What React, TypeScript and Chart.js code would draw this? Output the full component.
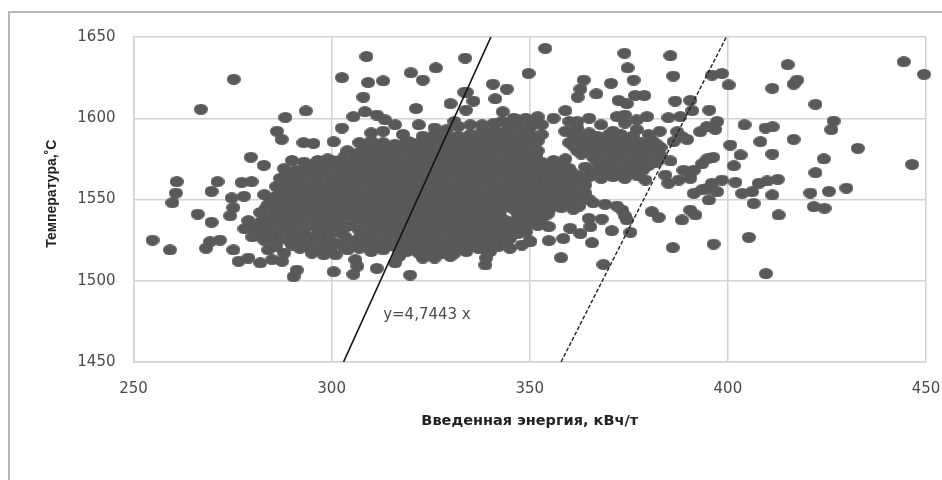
import React, { useEffect, useRef } from "react";
import { Chart, registerables } from "chart.js";

Chart.register(...registerables);

const xTitle = "Введенная энергия, кВч/т";
const yTitle = "   Температура,˚С";
const equationLabel = "y=4,7443 x";
const equationAt = [313, 1479];

const solidLine = [{ x: 303, y: 1450 }, { x: 340.2, y: 1650 }];
const dashedLine = [{ x: 357.9, y: 1450 }, { x: 399.6, y: 1650 }];

const leftOutliers = [
  [254.8,1525],[259.2,1519],[259.8,1548],[260.7,1554],[260.9,1561],[266.2,1541],[269.7,1536],[267,1605.5],[275.3,1624],
  [268.3,1520],[269.3,1524],[271.8,1525],[269.7,1555],[271.2,1561],[275.2,1519],[276.5,1512],[279,1514],[274.4,1540],
  [275.2,1545],[274.8,1551],[277.9,1552],[277.3,1560.5],[279.8,1561],[279.6,1576],[282.9,1571],[286.2,1592],[287.4,1587],
  [288.3,1600.5],[293.5,1604.5],[292.9,1585],[295.4,1584.5],[300.5,1585.6],[302.6,1594],[305.5,1601],[308.4,1604],[311.4,1602],
  [313.5,1599],[302.6,1625],[308.8,1638],[308,1613],[309.2,1622],[313,1623],[320,1628],[323,1623.5],[326.3,1631],
  [321.3,1606],[330,1609],[333.5,1616],[333.7,1637],[334.1,1616],[335.8,1610.6],[333.9,1605],[340.7,1621],[344.2,1618],
  [341.3,1612],[349.7,1627.6],[343.2,1604],[346.3,1599.5],[319.8,1503.5],[300.5,1505.6],[290.4,1502.5],[291.2,1506.6],
  [305.5,1504],[306,1513],[306.5,1509],[311.4,1507.6],[338.8,1509.7],[339,1514],[350,1524.5],[282,1511],[285,1513],[287.5,1512],
  [316,1511],[323,1514],[326,1514],[330,1515],[317,1515],[339,1519],
];

const rightOutliers = [
  [353.9,1643],[373.9,1640],[374.7,1631],[376.2,1623.5],[385.5,1638.5],[386.2,1626],[370.5,1621.5],[363.6,1623.5],[362.8,1618],
  [366.8,1615],[362.1,1613],[372.4,1611],[374.5,1609],[376.6,1614],[378.9,1614],[396,1626.6],[398.5,1627.6],[400.2,1620.5],
  [386.7,1610.6],[390.5,1611],[391,1604.7],[395.3,1605],[359,1604.7],[411.2,1618.4],[415.1,1633],[417.5,1623.5],[416.6,1621],
  [422.1,1608.6],[444.4,1634.8],[449.5,1627],[446.5,1571.6],[432.8,1581.5],[426.7,1598.3],[426.1,1593],[416.6,1587],[411.2,1578],
  [408.2,1585.6],[424.2,1575],[422.1,1566.5],[429.9,1557],[425.5,1555],[420.8,1554],[421.7,1545.6],[424.4,1544.6],[412.8,1540.5],
  [411.2,1552.8],[412.6,1562.4],[409.9,1561.4],[407.8,1560],[406.5,1547.6],[406.1,1554.8],[403.6,1553.8],[401.9,1560.6],[401.5,1570.8],
  [403.2,1577.4],[400.6,1583.5],[404.2,1596],[409.5,1594],[411.3,1594.8],[405.3,1526.7],[396.4,1522.6],[386.1,1520.4],[409.6,1504.4],
  [368.6,1510],[357.9,1514.2],[375.4,1529.8],[370.7,1530.8],[365.7,1523.4],[362.8,1529],[358.5,1526],[354.8,1524.7],[350.1,1524],
  [368.2,1538],[364.9,1538.4],[365.3,1533.3],[360.2,1532.3],[354.8,1533.3],[374.5,1537.4],[373.3,1543.5],[374,1540],[380.8,1542.5],
  [382.5,1539],[388.4,1537.4],[390.5,1543.5],[391.8,1540.5],[395.2,1549.7],[391.4,1553.8],[396,1560],[398.5,1562],[397.3,1554.8],
  [393.5,1556],[395,1557],[385,1560],[384.2,1565],[387.6,1562],[390.5,1563],[388.8,1568],[391.4,1568],[393.5,1572],[396.3,1576],
  [394.8,1575],[385.5,1573.7],[379.2,1562],[382.8,1592],[387.2,1591.7],[388.4,1588.7],[386.3,1585.6],[389.7,1587],[385,1600.4],
  [388,1601],[393,1591.7],[394.7,1594.8],[397.3,1598],[396.8,1593.2],[379.6,1601],[377,1599],[366,1548],[369,1547],[372,1546],
];

const coreLow = [
  [284,1519],[288,1517],[292,1520],[295,1517],[298,1516],[301,1516],[304,1519],[307,1520],[310,1518],[313,1519],[316,1521],[319,1518],
  [322,1517],[325,1518],[328,1517],[331,1517],[334,1518],[337,1520],[340,1518],[342,1521],[345,1520],[348,1522],
  [280,1527],[283,1525],[286,1524],[289,1525],[292,1526],[295,1524],[298,1525],[301,1523],[306,1525],[309,1524],[312,1525],[315,1524],
  [318,1523],[321,1522],[324,1524],[327,1523],[330,1522],[333,1523],[336,1524],[339,1525],[342,1527],[345,1526],[347,1529],
  [278,1532],[281,1531],[284,1530],[287,1531],[290,1530],[293,1532],[299,1531],[302,1530],[307,1531],[310,1530],[313,1532],[319,1529],
  [322,1530],[325,1529],[328,1530],[331,1529],[334,1530],[337,1531],[340,1530],[343,1533],[346,1532],[349,1533],[352,1534],
  [279,1537],[282,1536],[285,1536],[288,1537],[291,1536],[294,1538],[299,1537],[302,1536],[308,1537],[311,1536],[314,1537],[317,1535],
  [320,1536],[323,1535],[326,1536],[329,1535],[332,1537],[335,1536],[338,1536],[341,1538],[344,1537],[347,1538],[350,1539],[353,1538],
  [282,1542],[285,1541],[288,1542],[291,1541],[294,1542],[297,1541],[300,1542],[303,1541],[306,1542],[309,1541],[312,1543],[315,1541],
  [318,1542],[321,1541],[324,1542],[327,1541],[330,1543],[333,1541],[336,1542],[339,1543],[342,1542],[349,1544],[352,1543],[355,1544],[358,1545],[361,1544],
  [284,1547],[287,1548],[290,1546],[293,1547],[296,1548],[299,1547],[302,1546],[305,1548],[308,1547],[311,1548],[314,1546],[317,1547],
  [320,1548],[323,1546],[326,1547],[329,1548],[332,1547],[335,1546],[338,1548],[341,1547],[350,1549],[353,1548],[356,1549],[359,1550],[362,1549],[365,1550],
];

const coreHigh = [
  [283,1553],[286,1552],[289,1553],[292,1552],[295,1553],[298,1552],[301,1553],[304,1552],[307,1553],[310,1554],[313,1552],[316,1553],
  [319,1552],[322,1553],[325,1554],[328,1552],[331,1553],[334,1552],[337,1553],[340,1554],[343,1553],[346,1554],[349,1555],[352,1554],[355,1555],[358,1554],[361,1555],[364,1554],
  [286,1558],[289,1559],[292,1557],[295,1558],[298,1559],[301,1558],[304,1557],[307,1559],[310,1558],[313,1559],[316,1557],[319,1558],
  [322,1559],[325,1558],[328,1557],[331,1559],[334,1558],[337,1559],[340,1558],[346,1559],[349,1560],[352,1559],[355,1560],[358,1559],[361,1560],[364,1559],
  [287,1563],[290,1564],[293,1563],[296,1564],[299,1562],[302,1564],[305,1563],[308,1564],[311,1562],[314,1564],[317,1563],[320,1564],
  [323,1562],[326,1564],[329,1563],[332,1564],[335,1562],[338,1564],[341,1563],[344,1565],[347,1564],[350,1565],[353,1564],[356,1565],[359,1564],[362,1565],[365,1564],[368,1563],[371,1564],[374,1563],[377,1565],
  [288,1569],[291,1568],[294,1570],[297,1568],[300,1569],[303,1570],[306,1568],[309,1569],[312,1570],[315,1568],[318,1569],[321,1570],
  [324,1568],[327,1569],[330,1570],[333,1568],[336,1569],[339,1570],[342,1569],[345,1570],[348,1569],[351,1570],[354,1569],[357,1570],[360,1569],[364,1570],[368,1569],[371,1570],[374,1569],[377,1570],[380,1571],
  [290,1574],[293,1573],[299,1575],[302,1574],[305,1575],[308,1574],[311,1576],[314,1574],[317,1575],[320,1574],[323,1576],[326,1574],
  [329,1575],[332,1574],[335,1576],[338,1574],[341,1575],[344,1576],[347,1575],[350,1574],[353,1573],[356,1574],[359,1575],[366,1576],[369,1575],[372,1576],[375,1575],[378,1576],[381,1575],[383,1577],
  [304,1580],[307,1579],[310,1581],[313,1580],[316,1579],[319,1581],[322,1580],[325,1579],[328,1581],[331,1580],[334,1579],[337,1581],
  [340,1580],[343,1581],[346,1580],[349,1579],[352,1580],[362,1580],[365,1581],[368,1580],[371,1581],[374,1580],[377,1581],[380,1580],[383,1582],
  [307,1585],[310,1586],[313,1585],[316,1584],[319,1586],[325,1585],[328,1586],[331,1585],[334,1586],[337,1587],[340,1586],[343,1585],
  [346,1586],[349,1587],[352,1586],[360,1585],[363,1586],[366,1585],[369,1586],[372,1587],[375,1586],[378,1585],[381,1586],
  [313,1592],[322,1596],[326,1594],[329,1593],[332,1595],[338,1592],[341,1593],[344,1592],[347,1593],[350,1594],[353,1596],[356,1600],[359,1592],
  [362,1594],[365,1591],[368,1596],[371,1592],[374,1597],[377,1593],[380,1590],[316,1596],[335,1596],[343,1598],[349,1600],[352,1601],
  [362,1598],[365,1600],[372,1601],[374,1602],[360,1598],
];

const coreBetweenLow = [
  [286,1521],[290,1522],[293.5,1521],[296.5,1521],[299.5,1520],[303,1521],[305.5,1522],[308.5,1522],[311.5,1521],[314.5,1522],[317.5,1520],[320.5,1520],
  [323.5,1521],[326.5,1520],[329.5,1520],[332.5,1520],[335.5,1521],[338.5,1522],[341,1524],[344,1523],
  [281.5,1528],[284.5,1527],[287.5,1528],[290.5,1528],[293.5,1528],[296.5,1528],[299.5,1528],[303.5,1527],[307.5,1528],[310.5,1527],[313.5,1528],[318.5,1526],
  [321.5,1526],[324.5,1527],[327.5,1526],[330.5,1526],[333.5,1527],[336.5,1528],[339.5,1528],[342.5,1530],[345.5,1529],[349,1530],
  [280.5,1534],[283.5,1533],[286.5,1534],[289.5,1533],[292.5,1534],[300.5,1534],[303.5,1533],[308.5,1534],[311.5,1533],[315.5,1533],[318.5,1532],[321.5,1533],
  [324.5,1532],[327.5,1533],[330.5,1532],[333.5,1533],[336.5,1534],[339.5,1533],[342.5,1535],[345.5,1535],[348.5,1536],[351.5,1536],
  [283.5,1539],[286.5,1539],[289.5,1539],[292.5,1539],[295.5,1540],[298.5,1539],[301.5,1539],[304.5,1540],[309.5,1539],[312.5,1540],[315.5,1539],[318.5,1539],
  [321.5,1538],[324.5,1539],[327.5,1538],[330.5,1540],[333.5,1539],[336.5,1539],[339.5,1540],[342.5,1540],[348.5,1541],[351.5,1541],[354.5,1541],
  [283.5,1545],[286.5,1545],[289.5,1544],[292.5,1545],[295.5,1545],[298.5,1544],[301.5,1544],[304.5,1545],[307.5,1544],[310.5,1545],[313.5,1544],[316.5,1544],
  [319.5,1545],[322.5,1544],[325.5,1544],[328.5,1545],[331.5,1545],[334.5,1544],[337.5,1545],[340.5,1545],[343.5,1545],[350.5,1546],[353.5,1546],[356.5,1547],[359.5,1547],[362.5,1546],
  [285,1550],[288,1550],[291,1549],[294,1550],[297,1550],[300,1549],[303,1549],[306,1550],[309,1550],[312,1550],[315,1549],[318,1550],
  [321,1550],[324,1549],[327,1550],[330,1550],[333,1550],[336,1549],[339,1551],[342,1550],[345,1551],[351,1552],[354,1552],[357,1552],[360,1552],[363,1552],
];

const coreBetweenHigh = [
  [287.5,1556],[290.5,1555],[293.5,1555],[296.5,1556],[299.5,1555],[302.5,1555],[305.5,1555],[308.5,1556],[311.5,1556],[314.5,1555],[317.5,1555],[320.5,1556],
  [323.5,1556],[326.5,1555],[329.5,1555],[332.5,1556],[335.5,1555],[338.5,1556],[341.5,1556],[344.5,1557],[347.5,1557],[350.5,1557],[353.5,1557],[356.5,1557],[359.5,1557],[362.5,1557],
  [288.5,1561],[291.5,1561],[294.5,1561],[297.5,1561],[300.5,1561],[303.5,1560],[306.5,1561],[309.5,1561],[312.5,1561],[315.5,1560],[318.5,1561],[321.5,1561],
  [324.5,1560],[327.5,1560],[330.5,1561],[333.5,1560],[336.5,1561],[339.5,1561],[345,1562],[348,1562],[351,1562],[354,1562],[357,1562],[360,1562],[363,1562],
  [288.5,1566],[291.5,1566],[294.5,1567],[297.5,1566],[300.5,1566],[303.5,1567],[306.5,1566],[309.5,1566],[312.5,1567],[315.5,1566],[318.5,1566],[321.5,1567],
  [324.5,1565],[327.5,1566],[330.5,1567],[333.5,1566],[336.5,1566],[339.5,1567],[342.5,1566],[345.5,1567],[348.5,1567],[351.5,1567],[354.5,1567],[357.5,1567],[360.5,1567],[366,1567],[369.5,1566],[372.5,1567],[375.5,1567],[378.5,1568],
  [295.5,1572],[298.5,1572],[301.5,1572],[304.5,1572],[307.5,1572],[310.5,1573],[313.5,1572],[316.5,1572],[319.5,1572],[322.5,1573],[325.5,1572],[328.5,1572],
  [331.5,1572],[334.5,1573],[337.5,1572],[340.5,1572],[343.5,1573],[346.5,1572],[349.5,1572],[352.5,1571],[355.5,1572],[358.5,1572],[367,1573],[370,1573],[373,1573],[376,1573],[379,1573],[382,1573],
  [303.5,1577],[306.5,1577],[309.5,1578],[312.5,1577],[315.5,1577],[318.5,1578],[321.5,1578],[324.5,1577],[327.5,1578],[330.5,1577],[333.5,1577],[336.5,1578],
  [339.5,1578],[342.5,1578],[345.5,1578],[348.5,1577],[351.5,1577],[363,1578],[366,1578],[369,1578],[372,1578],[375,1578],[378,1578],[381,1578],
  [309,1583],[312,1583],[315,1582],[318,1583],[321,1583],[324,1582],[327,1583],[330,1583],[333,1583],[336,1584],[339,1583],[342,1583],
  [345,1583],[348,1583],[351,1583],[361,1583],[364,1583],[367,1583],[370,1584],[373,1584],[376,1583],[379,1583],[382,1584],
  [323,1589],[326,1590],[329,1590],[332,1589],[335,1590],[338,1589],[341,1589],[344,1589],[347,1590],[350,1590],[353,1590],[361,1590],[364,1589],
  [367,1589],[370,1590],[373,1590],[376,1589],[331,1598],[338,1596],[341,1597],[345,1596],[348,1596],[351,1597],[346,1600],
];

const coreGapFill = [
  [343,1558],[343,1561],[342,1560],[344,1555],[345.5,1548],[346,1544],[344,1548],[347,1552],[347.5,1546],[296,1533],[297,1536],[305,1534],[305.5,1538],
  [316,1530],[316,1527],[300,1574],[296.5,1574],[320,1585],[322.5,1585],[310,1591],[318,1590],[347,1541],[348,1550],
];

const points = [...leftOutliers, ...rightOutliers, ...coreLow, ...coreHigh, ...coreBetweenLow, ...coreBetweenHigh, ...coreGapFill].map(([x, y]) => ({ x, y }));

const pointColor = "#595959";
const gridColor = "#d2d2d2";
const textColor = "#4a4a4a";

export default function App() {
  const ref = useRef<HTMLCanvasElement | null>(null);
  useEffect(() => {
    const marker = document.createElement("canvas");
    marker.width = 14;
    marker.height = 11;
    const m = marker.getContext("2d")!;
    m.fillStyle = pointColor;
    m.beginPath();
    m.ellipse(7, 5.5, 7, 5.5, 0, 0, Math.PI * 2);
    m.fill();

    const chart = new Chart(ref.current!, {
      type: "scatter",
      data: {
        datasets: [
          { data: solidLine, showLine: true, borderColor: "#111", borderWidth: 1.6, pointRadius: 0, order: 0 },
          { data: dashedLine, showLine: true, borderColor: "#222", borderWidth: 1.4, borderDash: [4, 2], pointRadius: 0, order: 1 },
          { data: points, pointStyle: marker as any, backgroundColor: pointColor, borderColor: pointColor, clip: false, order: 2 } as any,
        ],
      },
      options: {
        responsive: false,
        animation: false,
        layout: { padding: { top: 37, right: 16, left: 0, bottom: 0 } },
        plugins: { legend: { display: false }, tooltip: { enabled: false } },
        scales: {
          x: {
            type: "linear",
            min: 250,
            max: 450,
            afterFit: (s: any) => { s.height = 118; s.paddingLeft = 0; s.paddingRight = 0; },
            border: { color: gridColor, width: 1.5 },
            grid: { color: gridColor, lineWidth: 1.5, drawTicks: false },
            ticks: { stepSize: 50, color: textColor, padding: 18, maxRotation: 0, callback: (v: any) => String(v), font: { family: "DejaVu Sans", size: 15 } },
            title: { display: true, text: xTitle, color: "#222", padding: { top: 0, bottom: 50 }, font: { family: "DejaVu Sans", size: 14.5, weight: "bold" } },
          },
          y: {
            min: 1450,
            max: 1650,
            afterFit: (s: any) => { s.width = 133.5; s.paddingTop = 0; s.paddingBottom = 0; },
            border: { color: gridColor, width: 1.5 },
            grid: { color: gridColor, lineWidth: 1.5, drawTicks: false },
            ticks: { stepSize: 50, color: textColor, padding: 18, callback: (v: any) => String(v), font: { family: "DejaVu Sans", size: 15 } },
            title: { display: true, text: yTitle, color: "#222", padding: { top: 44, bottom: 0 }, font: { family: "Liberation Sans", size: 14, weight: "bold" } },
          },
        },
      },
      plugins: [
        {
          id: "equation",
          afterDatasetsDraw(c: any) {
            const ctx = c.ctx;
            ctx.save();
            ctx.fillStyle = textColor;
            ctx.font = "15px 'DejaVu Sans'";
            ctx.textBaseline = "middle";
            ctx.textAlign = "left";
            ctx.fillText(equationLabel, c.scales.x.getPixelForValue(equationAt[0]), c.scales.y.getPixelForValue(equationAt[1]));
            ctx.restore();
          },
        },
      ],
    });
    return () => chart.destroy();
  }, []);

  return (
    <div style={{ position: "absolute", left: 0, top: 0, width: 942, height: 480, background: "#fff", overflow: "hidden" }}>
      <canvas ref={ref} width={942} height={480} style={{ display: "block", filter: "blur(0.5px)" }} />
      <div style={{ position: "absolute", left: 8, top: 11, width: 940, height: 480, borderLeft: "2px solid #b8b8b8", borderTop: "2px solid #b8b8b8" }} />
    </div>
  );
}
